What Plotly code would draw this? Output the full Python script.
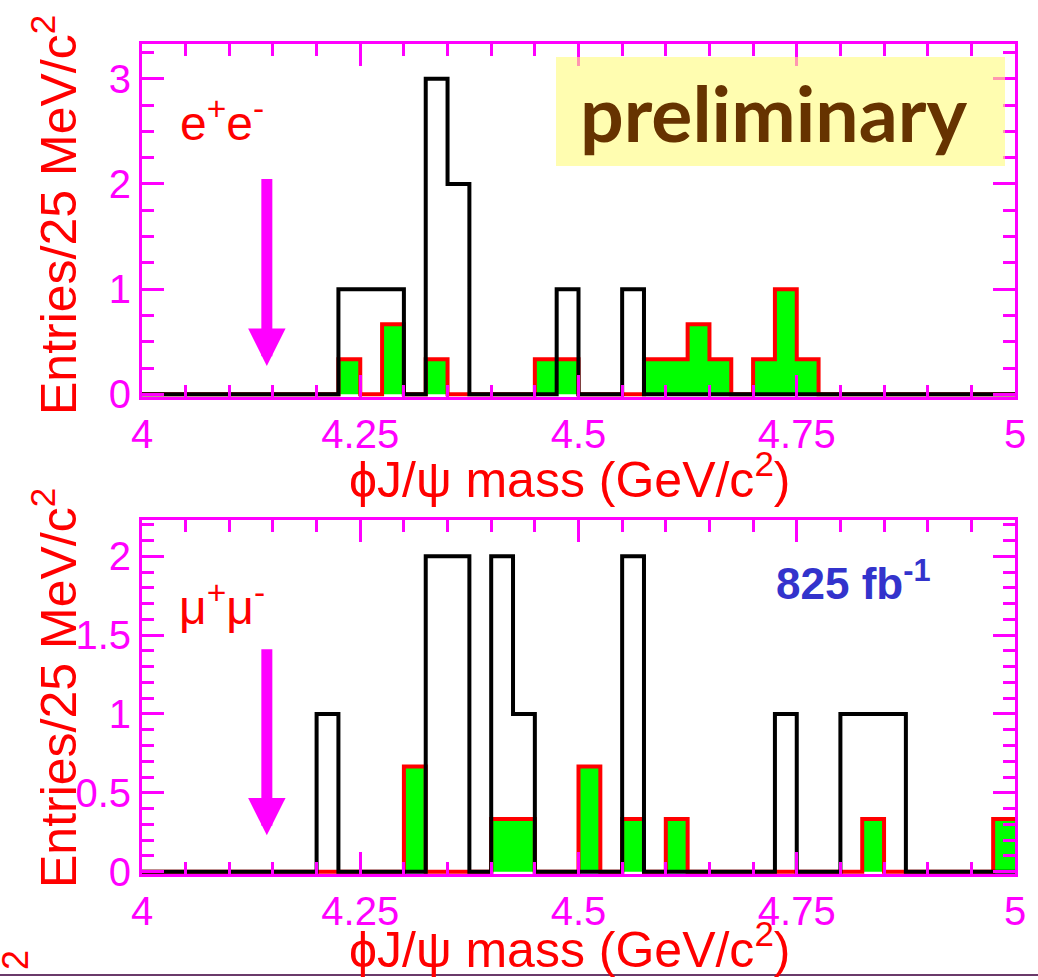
import numpy as np
import plotly.graph_objects as go

# ---------------- data (bin low edges in GeV/c^2, entries per 25 MeV/c^2) ----------------
bin_width = 0.025
x_min, x_max = 4.0, 5.0

# e+e- channel: signal region (black) and scaled sideband (green)
ee_signal_bins = [4.225, 4.25, 4.275, 4.325, 4.35, 4.475, 4.55]
ee_signal_counts = [1, 1, 1, 3, 2, 1, 1]
ee_side_bins = [4.225, 4.275, 4.325, 4.45, 4.475, 4.575, 4.60, 4.625, 4.65, 4.70, 4.725, 4.75]
ee_side_counts = [1/3, 2/3, 1/3, 1/3, 1/3, 1/3, 1/3, 2/3, 1/3, 1/3, 1, 1/3]

# mu+mu- channel
mm_signal_bins = [4.20, 4.325, 4.35, 4.40, 4.425, 4.55, 4.725, 4.80, 4.825, 4.85]
mm_signal_counts = [1, 2, 2, 2, 1, 2, 1, 1, 1, 1]
mm_side_bins = [4.30, 4.40, 4.425, 4.50, 4.55, 4.60, 4.825, 4.975]
mm_side_counts = [2/3, 1/3, 1/3, 2/3, 1/3, 1/3, 1/3, 1/3]

x_tickvals = [4.0, 4.25, 4.5, 4.75, 5.0]
x_ticktext = ["4", "4.25", "4.5", "4.75", "5"]
ee_y_tickvals = [0, 1, 2, 3]
ee_y_ticktext = ["0", "1", "2", "3"]
mm_y_tickvals = [0, 0.5, 1, 1.5, 2]
mm_y_ticktext = ["0", "0.5", "1", "1.5", "2"]

arrow_mass = 4.143  # X(4140) position marked by arrows

# ---------------- helpers ----------------
edges = np.round(np.arange(x_min, x_max + bin_width / 2, bin_width), 4)


def histogram(bins, counts):
    h = np.zeros(len(edges) - 1)
    for b, c in zip(bins, counts):
        h[int(round((b - x_min) / bin_width))] = c
    return np.append(h, h[-1])


MAG = "#FF00FF"
RED = "#FF0000"
GREEN = "#00FF00"
FONT = "Liberation Sans, Arial, sans-serif"
W, H = 1038, 980


def px(x):
    return x / W


def py(y):
    return 1 - y / H


fig = go.Figure()

for (sb, sc, gb, gc, xa, ya) in [
    (ee_signal_bins, ee_signal_counts, ee_side_bins, ee_side_counts, "x", "y"),
    (mm_signal_bins, mm_signal_counts, mm_side_bins, mm_side_counts, "x2", "y2"),
]:
    fig.add_trace(go.Scatter(
        x=edges, y=histogram(gb, gc), mode="lines", line=dict(shape="hv", color=RED, width=4),
        fill="tozeroy", fillcolor=GREEN, xaxis=xa, yaxis=ya, showlegend=False, hoverinfo="skip"))
    fig.add_trace(go.Scatter(
        x=edges, y=histogram(sb, sc), mode="lines", line=dict(shape="hv", color="black", width=4),
        xaxis=xa, yaxis=ya, showlegend=False, hoverinfo="skip"))

common_x = dict(
    range=[x_min, x_max], tickmode="array", tickvals=x_tickvals, ticktext=x_ticktext,
    ticks="inside", ticklen=22, tickwidth=3, tickcolor=MAG, automargin=False,
    minor=dict(dtick=0.05, tick0=4.0, ticks="inside", ticklen=12, tickwidth=3, tickcolor=MAG),
    showline=True, linecolor=MAG, linewidth=3, mirror="ticks", showgrid=False, zeroline=False,
    tickfont=dict(family=FONT, size=40, color=MAG), domain=[142 / W, 1015 / W],
)
common_y = dict(
    ticks="inside", ticklen=22, tickwidth=3, tickcolor=MAG, tickmode="array", automargin=False,
    showline=True, linecolor=MAG, linewidth=3, mirror="ticks", showgrid=False, zeroline=False,
    tickfont=dict(family=FONT, size=40, color=MAG),
)

fig.update_layout(
    width=W, height=H, margin=dict(l=0, r=0, t=0, b=0, autoexpand=False),
    paper_bgcolor="white", plot_bgcolor="white",
    xaxis=dict(common_x, anchor="y"),
    yaxis=dict(common_y, anchor="x", range=[-0.025, 3.33], tickvals=ee_y_tickvals, ticktext=ee_y_ticktext,
               minor=dict(dtick=0.25, tick0=0, ticks="inside", ticklen=12, tickwidth=3, tickcolor=MAG),
               domain=[py(397), py(44)]),
    xaxis2=dict(common_x, anchor="y2"),
    yaxis2=dict(common_y, anchor="x2", range=[-0.015, 2.23], tickvals=mm_y_tickvals, ticktext=mm_y_ticktext,
                minor=dict(dtick=0.1, tick0=0, ticks="inside", ticklen=12, tickwidth=3, tickcolor=MAG),
                domain=[py(874), py(520)]),
)

shapes = [
    dict(type="rect", xref="paper", yref="paper", x0=px(556), x1=px(1005), y0=py(166), y1=py(57),
         fillcolor="rgb(255,252,123)", opacity=0.6, line=dict(width=0), layer="above"),
    dict(type="line", xref="paper", yref="paper", x0=0, x1=1, y0=py(975), y1=py(975),
         line=dict(color="#6A3A6A", width=2)),
]

ytitle = "Entries/25 MeV/c<sup>2</sup>"
xtitle = "ϕJ/ψ mass (GeV/c<sup>2</sup>)"
annotations = [
    dict(text=ytitle, xref="paper", yref="paper", x=px(55), y=py(215), textangle=-90, showarrow=False,
         font=dict(family=FONT, size=50, color=RED), xanchor="center", yanchor="middle"),
    dict(text=ytitle, xref="paper", yref="paper", x=px(55), y=py(688), textangle=-90, showarrow=False,
         font=dict(family=FONT, size=50, color=RED), xanchor="center", yanchor="middle"),
    dict(text=xtitle, xref="paper", yref="paper", x=px(570), y=py(476), showarrow=False,
         font=dict(family=FONT, size=50, color=RED), xanchor="center", yanchor="middle"),
    dict(text=xtitle, xref="paper", yref="paper", x=px(570), y=py(946), showarrow=False,
         font=dict(family=FONT, size=50, color=RED), xanchor="center", yanchor="middle"),
    dict(text="e<sup>+</sup>e<sup>-</sup>", xref="paper", yref="paper", x=px(222), y=py(120), showarrow=False,
         font=dict(family=FONT, size=48, color=RED), xanchor="center", yanchor="middle"),
    dict(text="μ<sup>+</sup>μ<sup>-</sup>", xref="paper", yref="paper", x=px(222), y=py(604), showarrow=False,
         font=dict(family=FONT, size=48, color=RED), xanchor="center", yanchor="middle"),
    dict(text="<b>preliminary</b>", xref="paper", yref="paper", x=px(773), y=py(112), showarrow=False,
         font=dict(family="Comic Sans MS, Lato, sans-serif", size=77, color="#663300"),
         xanchor="center", yanchor="middle"),
    dict(text="<b>825 fb<sup>-1</sup></b>", xref="paper", yref="paper", x=px(853), y=py(580), showarrow=False,
         font=dict(family=FONT, size=44, color="#3333CC"), xanchor="center", yanchor="middle"),
    dict(text="2", xref="paper", yref="paper", x=px(15), y=py(960), textangle=-90, showarrow=False,
         font=dict(family=FONT, size=36, color=RED), xanchor="center", yanchor="middle"),
    dict(x=arrow_mass, y=0.27, ax=arrow_mass, ay=2.06, xref="x", yref="y", axref="x", ayref="y",
         text="", showarrow=True, arrowhead=2, arrowsize=0.68, arrowwidth=11, arrowcolor=MAG),
    dict(x=arrow_mass, y=0.23, ax=arrow_mass, ay=1.42, xref="x2", yref="y2", axref="x2", ayref="y2",
         text="", showarrow=True, arrowhead=2, arrowsize=0.68, arrowwidth=11, arrowcolor=MAG),
]

fig.update_layout(shapes=shapes, annotations=annotations)
fig.write_html("out.html", config={"displayModeBar": False},
               post_script="document.body.style.margin='0px';")
